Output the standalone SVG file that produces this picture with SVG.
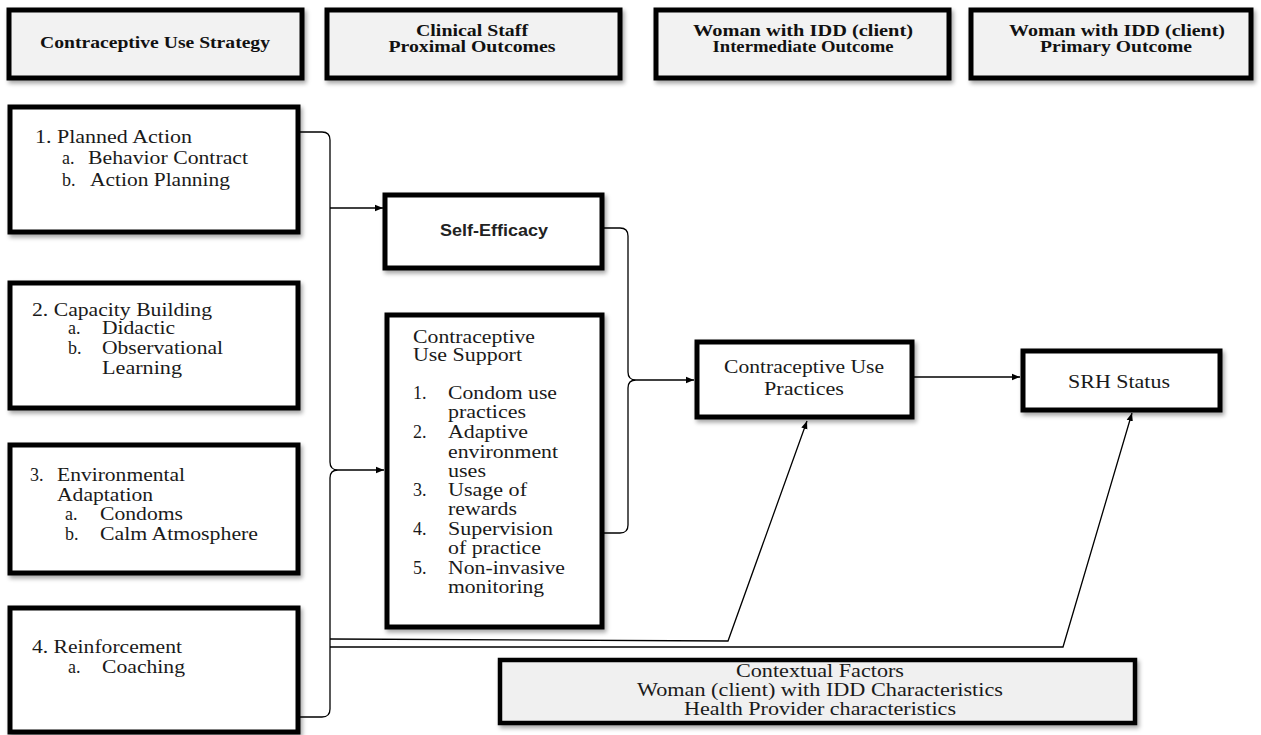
<svg xmlns="http://www.w3.org/2000/svg" width="1261" height="735" viewBox="0 0 1261 735">
<defs>
<filter id="sh" x="-10%" y="-10%" width="125%" height="130%">
<feDropShadow dx="2" dy="3" stdDeviation="2" flood-color="#000" flood-opacity="0.35"/>
</filter>
<marker id="ar" viewBox="0 0 10 10" refX="10" refY="5" markerWidth="8" markerHeight="8" markerUnits="userSpaceOnUse" orient="auto">
<path d="M0,1 L10,5 L0,9 Z" fill="#000"/>
</marker>
<style>
.box{fill:#fff;stroke:#000;stroke-width:5;filter:url(#sh)}
.hbox{fill:#f2f2f2;stroke:#000;stroke-width:5;filter:url(#sh)}
.cbox{fill:#f0f0f0;stroke:#000;stroke-width:4.5;filter:url(#sh)}
.t{font-family:"Liberation Serif",serif;font-size:18px;fill:#1a1a1a}
.tm{font-family:"Liberation Serif",serif;font-size:18px;fill:#1a1a1a;text-anchor:middle}
.h{font-family:"Liberation Serif",serif;font-size:16px;font-weight:bold;fill:#111;text-anchor:middle}
.sb{font-family:"Liberation Sans",sans-serif;font-size:16px;font-weight:bold;fill:#222;text-anchor:middle}
.c{stroke:#000;stroke-width:1.3;fill:none}
.ca{stroke:#000;stroke-width:1.3;fill:none;marker-end:url(#ar)}
</style>
</defs>
<rect width="1261" height="735" fill="#fff"/>

<g id="connectors">
<path class="c" d="M298,132 H322 Q330,132 330,140 V462 Q330,470 338,470 Q330,470 330,478 V709 Q330,717 322,717 H293"/>
<path class="ca" d="M330,208 H383"/>
<path class="ca" d="M338,470 H384"/>
<path class="c" d="M602,228 H620 Q628,228 628,236 V372 Q628,380 636,380 Q628,380 628,388 V525 Q628,533 620,533 H602"/>
<path class="ca" d="M636,380 H694"/>
<path class="ca" d="M912,377 H1020"/>
<path class="ca" d="M330,639 L728,641 L807,421"/>
<path class="ca" d="M330,647 H1063 L1132,413"/>
</g>

<g id="header-strategy">
<rect class="hbox" x="9" y="10" width="293" height="68"/>
<text class="h" x="155" y="48" textLength="230" lengthAdjust="spacingAndGlyphs">Contraceptive Use Strategy</text>
</g>
<g id="header-clinical">
<rect class="hbox" x="327" y="10" width="293" height="68"/>
<text class="h" x="472" y="36" textLength="112" lengthAdjust="spacingAndGlyphs">Clinical Staff</text>
<text class="h" x="472" y="52" textLength="167" lengthAdjust="spacingAndGlyphs">Proximal Outcomes</text>
</g>
<g id="header-intermediate">
<rect class="hbox" x="656" y="10" width="293" height="68"/>
<text class="h" x="803" y="36" textLength="220" lengthAdjust="spacingAndGlyphs">Woman with IDD (client)</text>
<text class="h" x="803" y="52" textLength="181" lengthAdjust="spacingAndGlyphs">Intermediate Outcome</text>
</g>
<g id="header-primary">
<rect class="hbox" x="971" y="10" width="280" height="68"/>
<text class="h" x="1117" y="36" textLength="216" lengthAdjust="spacingAndGlyphs">Woman with IDD (client)</text>
<text class="h" x="1116" y="52" textLength="152" lengthAdjust="spacingAndGlyphs">Primary Outcome</text>
</g>

<g id="planned-action">
<rect class="box" x="10" y="107" width="288" height="125"/>
<text class="t" x="35" y="143" textLength="157" lengthAdjust="spacingAndGlyphs">1. Planned Action</text>
<text class="t" x="62" y="164">a.</text>
<text class="t" x="88" y="164" textLength="160" lengthAdjust="spacingAndGlyphs">Behavior Contract</text>
<text class="t" x="62" y="186">b.</text>
<text class="t" x="90" y="186" textLength="140" lengthAdjust="spacingAndGlyphs">Action Planning</text>
</g>

<g id="capacity-building">
<rect class="box" x="10" y="283" width="288" height="125"/>
<text class="t" x="32" y="316" textLength="180" lengthAdjust="spacingAndGlyphs">2. Capacity Building</text>
<text class="t" x="68" y="334">a.</text>
<text class="t" x="102" y="334" textLength="73" lengthAdjust="spacingAndGlyphs">Didactic</text>
<text class="t" x="68" y="354">b.</text>
<text class="t" x="102" y="354" textLength="121" lengthAdjust="spacingAndGlyphs">Observational</text>
<text class="t" x="102" y="374" textLength="80" lengthAdjust="spacingAndGlyphs">Learning</text>
</g>

<g id="environmental-adaptation">
<rect class="box" x="10" y="445" width="288" height="128"/>
<text class="t" x="30" y="481">3.</text>
<text class="t" x="57" y="481" textLength="128" lengthAdjust="spacingAndGlyphs">Environmental</text>
<text class="t" x="57" y="501" textLength="96" lengthAdjust="spacingAndGlyphs">Adaptation</text>
<text class="t" x="65" y="520">a.</text>
<text class="t" x="100" y="520" textLength="83" lengthAdjust="spacingAndGlyphs">Condoms</text>
<text class="t" x="65" y="540">b.</text>
<text class="t" x="100" y="540" textLength="158" lengthAdjust="spacingAndGlyphs">Calm Atmosphere</text>
</g>

<g id="reinforcement">
<rect class="box" x="10" y="608" width="288" height="124"/>
<text class="t" x="32" y="653" textLength="150" lengthAdjust="spacingAndGlyphs">4. Reinforcement</text>
<text class="t" x="68" y="673">a.</text>
<text class="t" x="102" y="673" textLength="83" lengthAdjust="spacingAndGlyphs">Coaching</text>
</g>

<g id="self-efficacy">
<rect class="box" x="385" y="195" width="217" height="73"/>
<text class="sb" x="494" y="236" textLength="108" lengthAdjust="spacingAndGlyphs">Self-Efficacy</text>
</g>

<g id="contraceptive-use-support">
<rect class="box" x="387" y="315" width="215" height="312"/>
<text class="t" x="413" y="343" textLength="122" lengthAdjust="spacingAndGlyphs">Contraceptive</text>
<text class="t" x="413" y="361" textLength="109" lengthAdjust="spacingAndGlyphs">Use Support</text>
<text class="t" x="413" y="399">1.</text>
<text class="t" x="448" y="399" textLength="109" lengthAdjust="spacingAndGlyphs">Condom use</text>
<text class="t" x="448" y="418" textLength="78" lengthAdjust="spacingAndGlyphs">practices</text>
<text class="t" x="413" y="438">2.</text>
<text class="t" x="448" y="438" textLength="80" lengthAdjust="spacingAndGlyphs">Adaptive</text>
<text class="t" x="448" y="458" textLength="110" lengthAdjust="spacingAndGlyphs">environment</text>
<text class="t" x="448" y="477" textLength="38" lengthAdjust="spacingAndGlyphs">uses</text>
<text class="t" x="413" y="496">3.</text>
<text class="t" x="448" y="496" textLength="79" lengthAdjust="spacingAndGlyphs">Usage of</text>
<text class="t" x="448" y="515" textLength="69" lengthAdjust="spacingAndGlyphs">rewards</text>
<text class="t" x="413" y="535">4.</text>
<text class="t" x="448" y="535" textLength="105" lengthAdjust="spacingAndGlyphs">Supervision</text>
<text class="t" x="448" y="554" textLength="93" lengthAdjust="spacingAndGlyphs">of practice</text>
<text class="t" x="413" y="574">5.</text>
<text class="t" x="448" y="574" textLength="117" lengthAdjust="spacingAndGlyphs">Non-invasive</text>
<text class="t" x="448" y="593" textLength="96" lengthAdjust="spacingAndGlyphs">monitoring</text>
</g>

<g id="contraceptive-use-practices">
<rect class="box" x="697" y="342" width="215" height="75"/>
<text class="tm" x="804" y="373" textLength="160" lengthAdjust="spacingAndGlyphs">Contraceptive Use</text>
<text class="tm" x="804" y="395" textLength="80" lengthAdjust="spacingAndGlyphs">Practices</text>
</g>

<g id="srh-status">
<rect class="box" x="1023" y="351" width="197" height="59"/>
<text class="tm" x="1119" y="388" textLength="102" lengthAdjust="spacingAndGlyphs">SRH Status</text>
</g>

<g id="contextual-factors">
<rect class="cbox" x="500" y="660" width="635" height="63"/>
<text class="tm" x="820" y="677" textLength="168" lengthAdjust="spacingAndGlyphs">Contextual Factors</text>
<text class="tm" x="820" y="696" textLength="366" lengthAdjust="spacingAndGlyphs">Woman (client) with IDD Characteristics</text>
<text class="tm" x="820" y="715" textLength="272" lengthAdjust="spacingAndGlyphs">Health Provider characteristics</text>
</g>
</svg>
